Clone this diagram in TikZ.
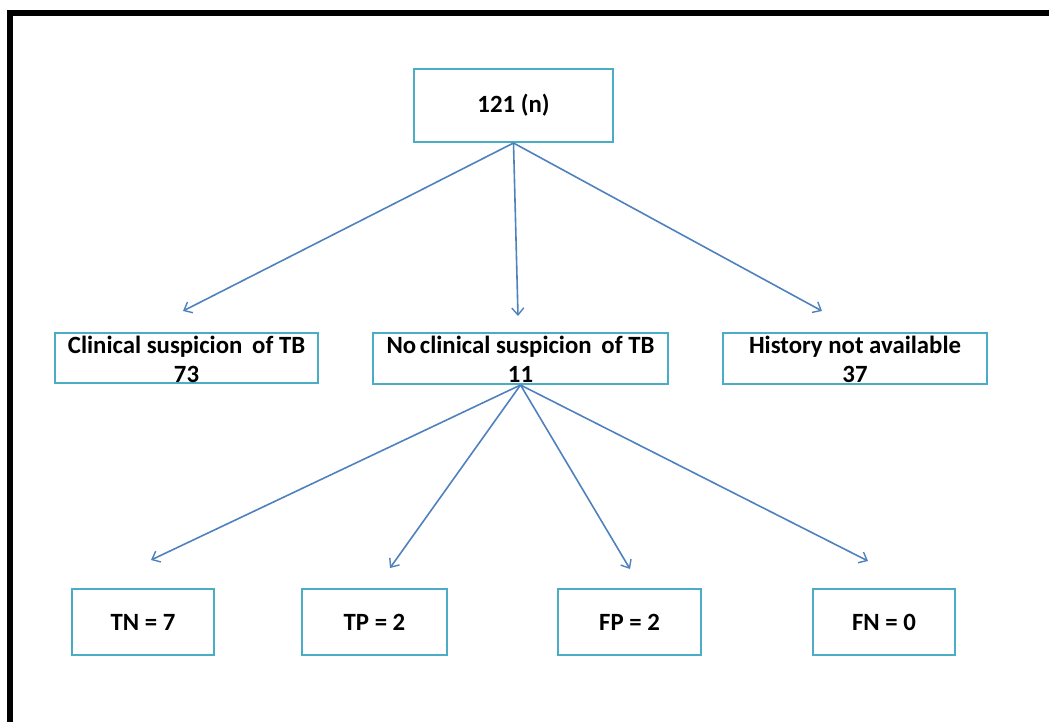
\documentclass[tikz,border=0pt]{standalone}
\usepackage{fontspec}
\setmainfont{Carlito}
\usetikzlibrary{arrows.meta}
\definecolor{boxblue}{RGB}{75,172,198}
\definecolor{arrowblue}{RGB}{79,129,189}
\tikzset{
  frame/.style={line width=6pt, black, line join=miter},
  txt/.style={font=\fontsize{24.8}{29}\selectfont\bfseries, align=center, inner sep=0pt},
  box/.style={draw=boxblue, line width=2pt, rectangle, inner sep=0pt, txt},
  conn/.style={draw=arrowblue, line width=1.6pt, -{Straight Barb[length=7pt,width=12pt,line width=1.4pt]}}
}
\begin{document}
\begin{tikzpicture}[x=1pt,y=-1pt]
\useasboundingbox (0,0) rectangle (1049,722);
\draw[frame] (9.5,722) -- (9.5,13) -- (1049,13);

\node[box, minimum width=199pt, minimum height=73pt] (root) at (513.5,105.5) {121 (n)};
\node[box, minimum width=263pt, minimum height=50pt] (clin) at (186.5,358) {};
\node[txt] (clint) at (186.5,359) {Clinical suspicion\, of TB\\73};
\node[box, minimum width=295pt, minimum height=51pt] (noclin) at (520.5,358.5) {};
\node[txt] (noclint) at (520.5,359) {No\kern-2pt\ clinical suspicion\, of TB\\11};
\node[box, minimum width=264pt, minimum height=51pt] (hist) at (855,358.5) {};
\node[txt] (histt) at (855,359) {History not available\\37};

\node[box, minimum width=142pt, minimum height=66pt] (tn) at (143,622) {TN = 7};
\node[box, minimum width=145pt, minimum height=66pt] (tp) at (374.5,622) {TP = 2};
\node[box, minimum width=143pt, minimum height=66pt] (fp) at (629.5,622) {FP = 2};
\node[box, minimum width=142pt, minimum height=66pt] (fn) at (884,622) {FN = 0};

\coordinate (a1) at (183,311);
\coordinate (a2) at (518,316);
\coordinate (a3) at (822,311);
\coordinate (b1) at (151,560);
\coordinate (b2) at (390,568);
\coordinate (b3) at (630,569);
\coordinate (b4) at (868,561);

\draw[conn] (root.south) -- (a1);
\draw[conn] (root.south) -- (a2);
\draw[conn] (root.south) -- (a3);
\draw[conn] (noclin.south) -- (b1);
\draw[conn] (noclin.south) -- (b2);
\draw[conn] (noclin.south) -- (b3);
\draw[conn] (noclin.south) -- (b4);
\end{tikzpicture}
\end{document}
